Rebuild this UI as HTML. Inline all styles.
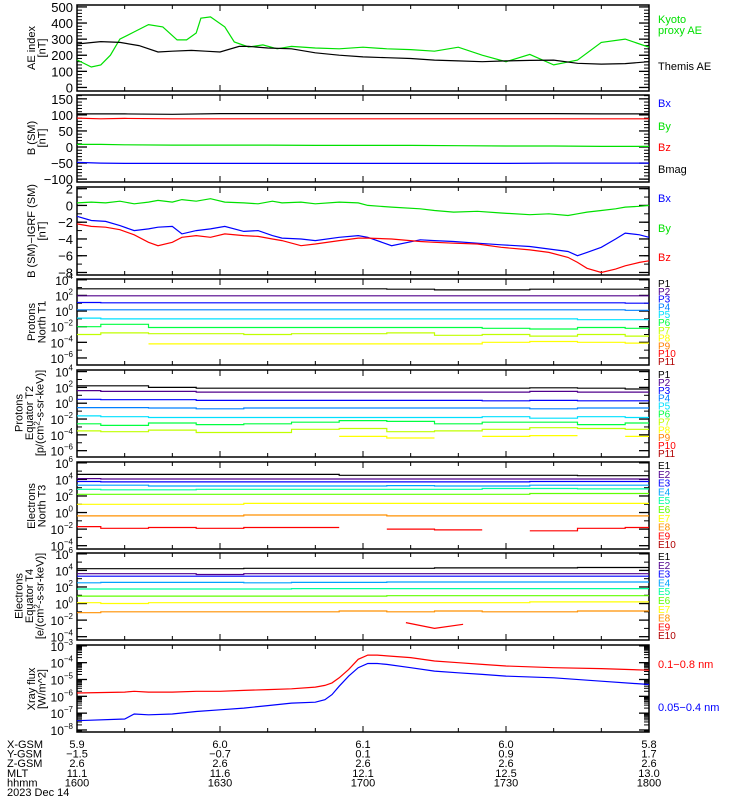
<!DOCTYPE html>
<html><head><meta charset="utf-8"><style>
body{margin:0;background:#fff;}
svg{display:block;font-family:"Liberation Sans",sans-serif;}
</style></head><body>
<svg id="chart" width="750" height="800" viewBox="0 0 750 800" xmlns="http://www.w3.org/2000/svg"></svg>
<script>
// ---- shared time axis ----
const timeTicks = [0, 30, 60, 90, 120];
const xGsm = ["5.9","6.0","6.1","6.0","5.8"];
const yGsm = ["\u22121.5","\u22120.7","0.1","0.9","1.7"];
const zGsm = ["2.6","2.6","2.6","2.6","2.6"];
const mltVals = ["11.1","11.6","12.1","12.5","13.0"];
const hhmmVals = ["1600","1630","1700","1730","1800"];

// ---- panel 1: AE ----
const aeTimes = [0,3,5,7,9,12,15,18,21,23,25,26,28,31,33,36,39,42,45,50,55,60,65,70,75,80,85,90,95,100,105,110,115,120];
const kyotoAE = [171,127,140,200,300,345,390,376,295,295,338,430,438,376,282,251,264,240,255,245,240,250,240,235,225,250,200,160,205,140,170,280,300,250];
const themisTimes = [0,5,9,13,17,20,24,27,30,34,36,40,45,50,55,60,65,70,75,80,85,90,95,100,105,110,115,120];
const themisAE = [270,285,280,260,220,225,230,225,220,255,255,245,240,215,200,190,185,180,170,165,160,165,168,170,150,145,148,160];

// ---- panel 2: B SM ----
const bTimes = [0,5,10,20,30,40,50,60,70,80,90,100,110,120];
const bx = [-48,-50,-51,-51,-51,-51,-51,-51,-51,-51,-51,-50,-50,-50];
const by = [8,8,7,6,6,6,5,5,5,4,3,3,2,2];
const bz = [90,88,89,88,88,88,88,88,88,88,88,88,88,88];
const bmag = [103,103,103,102,104,104,104,104,104,104,104,104,103,103];

// ---- panel 3: B - IGRF ----
const dbTimes = [0,3,6,9,12,15,17,20,22,25,28,31,35,38,41,43,47,50,55,59,61,66,72,75,79,84,89,95,99,103,105,107,110,113,115,118,120];
const dbx = [-1.3,-1.8,-1.9,-2.4,-3.0,-2.8,-2.6,-2.5,-3.4,-3.0,-2.8,-2.5,-3.1,-3.0,-3.6,-3.9,-4.0,-4.2,-3.8,-3.6,-3.8,-4.8,-4.1,-4.2,-4.3,-4.5,-4.7,-4.9,-5.2,-5.5,-6.0,-5.6,-5.0,-4.0,-3.3,-3.5,-3.8];
const dby = [0.3,0.4,0.3,0.5,0.2,0.4,0.6,0.4,0.7,0.5,0.8,0.4,0.3,0.2,0.5,0.3,0.4,0.2,0.4,0.3,0.0,-0.2,-0.4,-0.6,-0.8,-0.7,-0.9,-1.1,-1.0,-1.2,-1.0,-0.8,-0.6,-0.4,-0.2,-0.1,0.0];
const dbz = [-2.2,-2.5,-2.6,-2.9,-3.5,-4.4,-4.8,-4.4,-3.8,-3.6,-3.8,-3.4,-3.6,-3.7,-4.0,-4.2,-4.8,-4.6,-4.2,-3.9,-3.9,-4.0,-4.3,-4.4,-4.5,-4.6,-5.0,-5.3,-5.6,-6.2,-6.8,-7.5,-8.0,-7.6,-7.2,-6.8,-6.6];

// ---- log flux panels (log10 values every 10 min, null = no data) ----
const fluxTimes = [0,10,20,30,40,50,60,70,80,90,100,110,120];
const p1T1 = [[2.85,2.85,2.85,2.85,2.85,2.85,2.85,2.8,2.7,2.7,2.8,2.8,2.8],[1.95,1.95,1.95,1.95,1.95,1.95,1.95,1.95,1.95,1.95,1.95,1.95,1.95],[1.1,1.05,1.05,1.05,1.05,1.05,1.05,1.05,1.05,1.05,1.05,1.05,1.0],[0.16,0.16,0.16,0.16,0.16,0.16,0.16,0.16,0.16,0.16,0.16,0.16,0.1],[-0.9,-1.0,-1.0,-1.0,-1.0,-1.0,-1.0,-1.0,-1.0,-1.0,-1.0,-1.1,-1.1],[-2.0,-1.7,-2.1,-2.1,-2.1,-2.1,-2.1,-2.1,-2.1,-2.2,-2.3,-2.1,-2.2],[-3.0,-2.8,-2.9,-2.9,-3.0,-2.9,-2.9,-2.8,-3.1,-3.0,-3.2,-3.0,-3.2],[null,null,-4.2,-4.2,-4.2,-4.2,-4.2,-4.2,-4.2,-4.0,-3.9,-4.0,-4.1]];
const p2T2 = [[2.2,2.2,2.0,1.9,1.9,1.9,1.9,1.9,1.9,1.9,1.95,1.9,1.8],[1.6,1.5,1.5,1.4,1.4,1.4,1.4,1.4,1.4,1.4,1.5,1.4,1.4],[0.5,0.45,0.45,0.35,0.35,0.35,0.35,0.35,0.35,0.3,0.35,0.3,0.3],[-0.55,-0.55,-0.6,-0.7,-0.6,-0.6,-0.6,-0.6,-0.6,-0.6,-0.7,-0.6,-0.6],[-1.6,-1.7,-1.8,-1.8,-1.8,-1.8,-1.8,-1.8,-1.8,-1.7,-1.9,-1.7,-1.8],[-2.6,-2.8,-2.5,-2.7,-2.6,-2.4,-2.2,-2.3,-2.6,-2.4,-2.4,-2.7,-2.5],[-3.5,-3.6,-3.4,-3.7,-3.7,-3.3,-3.2,-3.6,-3.5,-3.3,-3.1,-3.2,-3.3],[null,null,null,null,null,null,-4.2,-4.4,null,-4.2,-4.1,null,-4.2]];
const e1T3 = [[4.6,4.6,4.6,4.6,4.6,4.6,4.5,4.5,4.5,4.5,4.5,4.45,4.45],[4.1,4.05,4.05,4.05,4.05,4.05,4.05,4.05,4.05,4.05,4.05,4.05,4.05],[3.75,3.7,3.7,3.7,3.7,3.7,3.7,3.7,3.7,3.7,3.75,3.75,3.75],[3.3,3.3,3.2,3.2,3.2,3.2,3.2,3.25,3.2,3.2,3.3,3.3,3.3],[2.8,2.75,2.75,2.8,2.8,2.8,2.8,2.8,2.8,2.9,2.9,2.85,2.85],[2.2,2.2,2.2,2.2,2.2,2.2,2.2,2.2,2.2,2.2,2.3,2.3,2.3],[1.0,1.0,1.0,1.0,1.1,1.1,1.1,1.1,1.1,1.1,1.1,1.1,1.1],[-0.4,-0.4,-0.4,-0.4,-0.3,-0.3,-0.3,-0.4,-0.4,-0.4,-0.4,-0.4,-0.4],[-1.7,-1.9,-1.8,-1.9,-1.8,-1.8,null,-2.0,-2.1,null,-2.2,-1.9,-1.8]];
const e2T4 = [[4.2,4.2,4.2,4.2,4.25,4.25,4.25,4.25,4.3,4.3,4.3,4.35,4.35],[3.6,3.6,3.6,3.5,3.6,3.6,3.6,3.6,3.6,3.6,3.6,3.6,3.6],[3.3,3.3,3.3,3.3,3.3,3.3,3.3,3.3,3.3,3.3,3.3,3.3,3.3],[2.5,2.55,2.55,2.55,2.5,2.55,2.55,2.6,2.6,2.6,2.6,2.6,2.6],[1.75,1.75,1.75,1.75,1.75,1.8,1.8,1.8,1.8,1.8,1.8,1.8,1.8],[0.9,0.9,0.9,0.9,0.9,0.9,0.9,0.95,0.95,0.95,0.95,0.95,0.95],[0.1,0.0,0.1,0.1,0.1,0.1,0.1,0.1,0.1,0.1,0.2,0.2,0.2],[-1.1,-1.0,-1.0,-1.0,-1.0,-1.0,-0.9,-1.0,-0.9,-1.0,-1.0,-0.9,-0.9]];
const e2T4vTimes = [69,75,81];
const e2T4vVals = [-2.3,-3.0,-2.5];

// ---- panel 8: X-ray ----
const xrTimes = [0,10,12,15,20,25,30,35,40,45,50,52,53.5,55,57,59,61,63,65,70,75,80,85,90,100,110,120];
const xrLong = [-5.8,-5.75,-5.7,-5.75,-5.75,-5.7,-5.7,-5.65,-5.6,-5.55,-5.45,-5.35,-5.2,-4.9,-4.4,-3.8,-3.55,-3.55,-3.6,-3.7,-3.9,-4.0,-4.1,-4.2,-4.3,-4.35,-4.45];
const xrShort = [-7.45,-7.35,-7.05,-7.1,-7.05,-6.9,-6.8,-6.7,-6.55,-6.4,-6.35,-6.2,-5.9,-5.4,-4.8,-4.3,-4.05,-4.05,-4.1,-4.3,-4.5,-4.6,-4.7,-4.8,-4.9,-5.1,-5.3];

// ---------------- rendering ----------------
const NS="http://www.w3.org/2000/svg";
const svg=document.getElementById('chart');
const X0=77,X1=649;
const xs=t=>X0+(t/120)*(X1-X0);
function el(tag,attrs,parent){const e=document.createElementNS(NS,tag);for(const k in attrs)e.setAttribute(k,attrs[k]);(parent||svg).appendChild(e);return e;}
function txt(s,x,y,attrs,parent){const e=el('text',Object.assign({x:x,y:y,'font-size':11},attrs||{}),parent);e.textContent=s;return e;}

function panel(name,top,bot,vmin,vmax){
  const g=el('g',{});
  
  
  const ys=v=>bot-(v-vmin)/(vmax-vmin)*(bot-top);
  const r=el('rect',{x:X0,y:top,width:X1-X0,height:bot-top,fill:'none',stroke:'#000','stroke-width':1.5},g);
  
  
  for(let t=0;t<=120;t+=10){const L=(t%30===0)?6:4;
    el('line',{x1:xs(t),x2:xs(t),y1:bot,y2:bot-L,stroke:'#000'},g);
    el('line',{x1:xs(t),x2:xs(t),y1:top,y2:top+L,stroke:'#000'},g);}
  return {g,ys,top,bot};
}
function yTicks(p,vals,labels,minor,fs){
  const lab=el('g',{},p.g);
  
  
  vals.forEach((v,i)=>{const y=p.ys(v);
    el('line',{x1:X0,x2:X0+10,y1:y,y2:y,stroke:'#000','stroke-width':1.3},p.g);
    el('line',{x1:X1,x2:X1-10,y1:y,y2:y,stroke:'#000','stroke-width':1.3},p.g);
    if(labels[i]!==null && labels[i]!==undefined){
      if(typeof labels[i]==='object'){const t=txt('10',X0-4,y+5,{'text-anchor':'end','font-size':12},lab);
        const ts=el('tspan',{dy:-6,'font-size':8},t);ts.textContent=labels[i].e;}
      else txt(labels[i],X0-4,y+5,{'text-anchor':'end','font-size':fs||13},lab);}
  });
  (minor||[]).forEach(v=>{const y=p.ys(v);
    el('line',{x1:X0,x2:X0+5,y1:y,y2:y,stroke:'#000'},p.g);
    el('line',{x1:X1,x2:X1-5,y1:y,y2:y,stroke:'#000'},p.g);});
}
function series(p,name,times,vals,color){
  let d='',pen=false;
  vals.forEach((v,i)=>{if(v===null){pen=false;return;}d+=(pen?'L':'M')+xs(times[i]).toFixed(1)+','+p.ys(v).toFixed(1);pen=true;});
  const path=el('path',{d:d,fill:'none',stroke:color,'stroke-width':1.2},p.g);
  
  
}
function stepSeries(p,name,times,vals,color){
  let d='';let pen=false;
  vals.forEach((v,i)=>{if(v===null){pen=false;return;}
    const x0=xs(i===0?0:(times[i-1]+times[i])/2), x1=xs(i===vals.length-1?120:(times[i]+times[i+1])/2);
    const y=p.ys(v).toFixed(1);
    d+=(pen?'L':'M')+x0.toFixed(1)+','+y+'L'+x1.toFixed(1)+','+y;pen=true;});
  const path=el('path',{d:d,fill:'none',stroke:color,'stroke-width':1.2},p.g);
  
  
}
function ylabel(lines,cx,cy,name){
  const g=el('g',{transform:`translate(${cx},${cy}) rotate(-90)`});
  
  
  lines.forEach((l,i)=>{const t=txt('',0,(i-(lines.length-1)/2)*10.5+4,{'text-anchor':'middle','font-size':11},g);t.innerHTML=l;});
}
function rlabel(s,y,color,name,fs){const t=txt(s,658,y,{fill:color,'font-size':fs||11});
  
  }
const lvals=(a,b)=>{const r=[];for(let v=a;v<=b;v++)r.push(v);return r;};
const expLab=arr=>arr.map(v=>({e:String(v).replace('-','\u2212')}));

// Panel 1
let p=panel('ae-index-panel',5,91,-22,512);
yTicks(p,[0,100,200,300,400,500],['0','100','200','300','400','500'],lvals(0,25).map(v=>v*20));
series(p,'kyoto-proxy-ae-line',aeTimes,kyotoAE,'#00e000');
series(p,'themis-ae-line',themisTimes,themisAE,'#000');
ylabel(['AE index','[nT]'],36,48,'ae-y-axis-title');
rlabel('Kyoto',23,'#00e000','legend-kyoto');
rlabel('proxy AE',34,'#00e000','legend-proxy-ae');
rlabel('Themis AE',70,'#000','legend-themis-ae');

// Panel 2
p=panel('b-sm-panel',95,182,-109,162);
yTicks(p,[-100,-50,0,50,100,150],['\u2212100','\u221250','0','50','100','150'],lvals(-10,16).map(v=>v*10));
series(p,'bmag-line',bTimes,bmag,'#000');
series(p,'bz-line',bTimes,bz,'#f00');
series(p,'by-line',bTimes,by,'#00e000');
series(p,'bx-line',bTimes,bx,'#00f');
ylabel(['B (SM)','[nT]'],36,138,'b-sm-y-axis-title');
rlabel('Bx',107,'#00f','legend-bx');rlabel('By',130,'#00e000','legend-by');rlabel('Bz',151,'#f00','legend-bz');rlabel('Bmag',173,'#000','legend-bmag');

// Panel 3
p=panel('b-igrf-panel',187,275,-8.3,2.2);
yTicks(p,[-8,-6,-4,-2,0,2],['\u22128','\u22126','\u22124','\u22122','0','2'],lvals(-8,2));
series(p,'dby-line',dbTimes,dby,'#00e000');
series(p,'dbx-line',dbTimes,dbx,'#00f');
series(p,'dbz-line',dbTimes,dbz,'#f00');
ylabel(['B (SM)\u2212IGRF (SM)','[nT]'],36,231,'b-igrf-y-axis-title');
rlabel('Bx',202,'#00f','legend-dbx');rlabel('By',232,'#00e000','legend-dby');rlabel('Bz',261,'#f00','legend-dbz');

const pCols=['#000','#50008c','#0000ff','#0080ff','#00e0ff','#00ff40','#c0ff00','#ffff00','#ff8000','#ff0000','#b00000'];
const eCols=['#000','#50008c','#0000ff','#00a0ff','#00ffa0','#60ff00','#ffff00','#ff9000','#ff0000','#b00000'];

// Panel 4
p=panel('protons-north-t1-panel',279,365,-6.9,4.1);
yTicks(p,[-6,-4,-2,0,2,4],expLab([-6,-4,-2,0,2,4]),[-5,-3,-1,1,3]);
p1T1.forEach((a,i)=>stepSeries(p,'proton-t1-p'+(i+1),fluxTimes,a,pCols[i]));
ylabel(['Protons','North T1'],36,322,'protons-t1-y-axis-title');
pCols.forEach((c,i)=>rlabel('P'+(i+1),287+i*7.8,c,'legend-t1-p'+(i+1),10));

// Panel 5
p=panel('protons-equator-t2-panel',370,457,-6.8,4.2);
yTicks(p,[-6,-4,-2,0,2,4],expLab([-6,-4,-2,0,2,4]),[-5,-3,-1,1,3]);
p2T2.forEach((a,i)=>stepSeries(p,'proton-t2-p'+(i+1),fluxTimes,a,pCols[i]));
ylabel(['Protons','Equator T2','[p/(cm<tspan font-size="8" dy="-4">2</tspan><tspan dy="4">-s-sr-keV)]</tspan>'],29,413,'protons-t2-y-axis-title');
pCols.forEach((c,i)=>rlabel('P'+(i+1),378+i*7.9,c,'legend-t2-p'+(i+1),10));

// Panel 6
p=panel('electrons-north-t3-panel',462,549,-4.4,6.1);
yTicks(p,[-4,-2,0,2,4,6],expLab([-4,-2,0,2,4,6]),[-3,-1,1,3,5]);
e1T3.forEach((a,i)=>stepSeries(p,'electron-t3-e'+(i+1),fluxTimes,a,eCols[i]));
ylabel(['Electrons','North T3'],36,506,'electrons-t3-y-axis-title');
eCols.forEach((c,i)=>rlabel('E'+(i+1),469+i*8.8,c,'legend-t3-e'+(i+1),10));

// Panel 7
p=panel('electrons-equator-t4-panel',553,640,-4.4,6.1);
yTicks(p,[-4,-2,0,2,4,6],expLab([-4,-2,0,2,4,6]),[-3,-1,1,3,5]);
e2T4.forEach((a,i)=>stepSeries(p,'electron-t4-e'+(i+1),fluxTimes,a,eCols[i]));
series(p,'electron-t4-e9',e2T4vTimes,e2T4vVals,eCols[8]);
ylabel(['Electrons','Equator T4','[e/(cm<tspan font-size="8" dy="-4">2</tspan><tspan dy="4">-s-sr-keV)]</tspan>'],29,596,'electrons-t4-y-axis-title');
eCols.forEach((c,i)=>rlabel('E'+(i+1),560+i*8.8,c,'legend-t4-e'+(i+1),10));

// Panel 8
p=panel('xray-flux-panel',645,732,-8.12,-2.95);
yTicks(p,[-8,-7,-6,-5,-4,-3],expLab([-8,-7,-6,-5,-4,-3]),[]);
const xmin=[];for(let d=-9;d<=-4;d++)for(let m=2;m<10;m++){const v=d+Math.log10(m);if(v>-8.12&&v<-2.95)xmin.push(v);}
yTicks(p,[],[],xmin);
series(p,'xray-long-line',xrTimes,xrLong,'#f00');
series(p,'xray-short-line',xrTimes,xrShort,'#00f');
ylabel(['Xray flux','[W/m^2]'],36,689,'xray-y-axis-title');
rlabel('0.1\u22120.8 nm',668,'#f00','legend-xray-long');
rlabel('0.05\u22120.4 nm',711,'#00f','legend-xray-short');

// Ephemeris footer
const foot=el('g',{});


const rows=[['X-GSM',xGsm],['Y-GSM',yGsm],['Z-GSM',zGsm],['MLT',mltVals],['hhmm',hhmmVals]];
rows.forEach((r,i)=>{const y=748+i*9.6;txt(r[0],7,y,{'font-size':11},foot);
  r[1].forEach((s,j)=>txt(s,xs(timeTicks[j]),y,{'text-anchor':'middle','font-size':11},foot));});
txt('2023 Dec 14',7,796,{'font-size':11},foot);
</script>
</body></html>
